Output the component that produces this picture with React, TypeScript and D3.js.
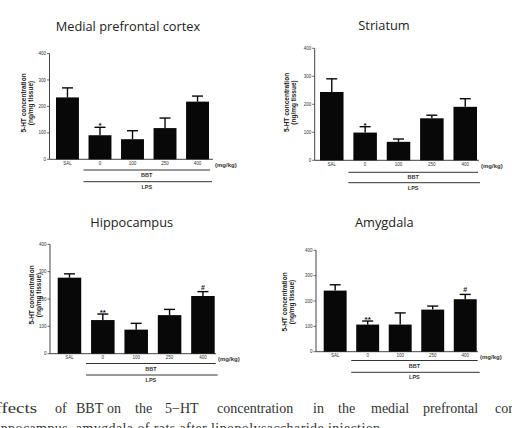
import React from "react";
import * as d3 from "d3";

// Dose groups on the x axis
const groups = ["SAL", "0", "100", "250", "400"];

// 5-HT concentration (ng/mg tissue), mean and SEM per brain region
const mpfcMean = [234, 91, 76, 118, 218];
const mpfcSem = [36, 30, 32, 38, 21];
const striatumMean = [244, 99, 66, 150, 191];
const striatumSem = [47, 21, 10, 11, 29];
const hippocampusMean = [278, 123, 88, 141, 211];
const hippocampusSem = [14, 22, 23, 21, 16];
const amygdalaMean = [241, 107, 107, 166, 207];
const amygdalaSem = [23, 14, 46, 14, 19];

// Significance marks above each bar
const mpfcMarks = ["", "*", "", "", ""];
const striatumMarks = ["", "*", "", "", ""];
const hippocampusMarks = ["", "**", "", "", "#"];
const amygdalaMarks = ["", "**", "", "", "#"];

const regionTitles = ["Medial prefrontal cortex", "Striatum", "Hippocampus", "Amygdala"];
const yTicks = [0, 100, 200, 300, 400];
const yLabelLines = ["5-HT concentration", "(ng/mg tissue)"];
const unitLabel = "(mg/kg)";
const bracketLabels = ["BBT", "LPS"];

const captionWords1 = ["Effects", "of", "BBT", "on", "the", "5\u2212HT", "concentration", "in", "the", "medial", "prefrontal", "cortex,"];
const captionLine2 = "hippocampus, amygdala of rats after lipopolysaccharide injection.";

// Panel geometry
const panelLayout = [
  { left: 49.5, y0: 159.3, yTop: 53.5, barsFrom: 56, barsTo: 209, axisEnd: 213, titleX: 128, titleY: 31, labelX: [24.5, 31.5], labelY: 103, bbtDy: 10.7, lpsDy: 22.4 },
  { left: 314.7, y0: 160.3, yTop: 48.3, barsFrom: 320, barsTo: 477, axisEnd: 479, titleX: 384, titleY: 30, labelX: [287.5, 294.5], labelY: 102.5, bbtDy: 12, lpsDy: 22.4 },
  { left: 50, y0: 353.7, yTop: 244.3, barsFrom: 57.7, barsTo: 214.7, axisEnd: 216, titleX: 131.7, titleY: 226.7, labelX: [32.5, 39.5], labelY: 295, bbtDy: 9.8, lpsDy: 21.3 },
  { left: 316, y0: 351.7, yTop: 250.3, barsFrom: 323.7, barsTo: 476.7, axisEnd: 478, titleX: 384.3, titleY: 226.7, labelX: [285.3, 292.3], labelY: 302, bbtDy: 8.8, lpsDy: 20.6 },
];

// Justified caption word positions (first word starts left of the page edge)
const captionX1 = [-16, 55, 76, 107, 135, 165, 217, 313, 338, 371, 423, 495];

const panels = [
  { mean: mpfcMean, sem: mpfcSem, marks: mpfcMarks },
  { mean: striatumMean, sem: striatumSem, marks: striatumMarks },
  { mean: hippocampusMean, sem: hippocampusSem, marks: hippocampusMarks },
  { mean: amygdalaMean, sem: amygdalaSem, marks: amygdalaMarks },
];

const labelFont = "'Liberation Sans', Arial, sans-serif";

function Panel({ idx }: { idx: number }) {
  const L = panelLayout[idx];
  const d = panels[idx];
  const y = d3.scaleLinear().domain([0, 400]).range([L.y0, L.yTop]);
  const x = d3.scaleBand<string>().domain(groups).range([L.barsFrom, L.barsTo]).paddingInner(0.295).paddingOuter(0);
  const bw = x.bandwidth();
  const bbtFrom = (x("0") as number) - 5;
  const bbtTo = (x("400") as number) + bw + 1;
  const bbtY = L.y0 + L.bbtDy;
  const lpsY = L.y0 + L.lpsDy;
  const capW = 11;

  return (
    <g>
      <text x={L.titleX} y={L.titleY} textAnchor="middle" fontFamily="'Open Sans', sans-serif" fontSize={12.8} fill="#222">
        {regionTitles[idx]}
      </text>

      {/* y axis */}
      <line x1={L.left} x2={L.left} y1={y(400)} y2={y(0)} stroke="#444" strokeWidth={1} />
      {yTicks.map((t) => (
        <g key={t}>
          <line x1={L.left - 2.5} x2={L.left} y1={y(t)} y2={y(t)} stroke="#444" strokeWidth={0.8} />
          <text x={L.left - 3.5} y={y(t)} dy="0.35em" textAnchor="end" fontFamily={labelFont} fontSize={4.5} fill="#333">
            {t}
          </text>
        </g>
      ))}
      {yLabelLines.map((s, i) => (
        <text
          key={s}
          transform={`translate(${L.labelX[i]},${L.labelY}) rotate(-90)`}
          textAnchor="middle"
          dominantBaseline="middle"
          fontFamily={labelFont}
          fontWeight="bold"
          fontSize={6.5}
          fill="#222"
        >
          {s}
        </text>
      ))}

      {/* x axis */}
      <line x1={L.left} x2={L.axisEnd} y1={y(0)} y2={y(0)} stroke="#444" strokeWidth={1} />
      {groups.map((g) => (
        <text key={g} x={(x(g) as number) + bw / 2} y={y(0) + 5.5} textAnchor="middle" fontFamily={labelFont} fontSize={4.5} fill="#333">
          {g}
        </text>
      ))}
      <text x={L.axisEnd + 2} y={y(0) + 7.5} fontFamily={labelFont} fontSize={6} fontWeight="bold" fill="#333">
        {unitLabel}
      </text>

      {/* bars with SEM whiskers */}
      {groups.map((g, i) => {
        const cx = (x(g) as number) + bw / 2;
        const top = y(d.mean[i] + d.sem[i]);
        const m = d.marks[i];
        const isStar = m.includes("*");
        return (
          <g key={g}>
            <rect x={x(g)} y={y(d.mean[i])} width={bw} height={y(0) - y(d.mean[i])} fill="#080808" />
            <line x1={cx} x2={cx} y1={y(d.mean[i])} y2={top} stroke="#080808" strokeWidth={1.4} />
            <line x1={cx - capW / 2} x2={cx + capW / 2} y1={top} y2={top} stroke="#080808" strokeWidth={1.4} />
            {m && (
              <text x={cx} y={isStar ? top + 1 : top - 2} textAnchor="middle" fontFamily={labelFont} fontWeight="bold" fontSize={isStar ? 8 : 7} fill="#111">
                {m}
              </text>
            )}
          </g>
        );
      })}

      {/* treatment brackets */}
      <line x1={bbtFrom} x2={bbtTo} y1={bbtY} y2={bbtY} stroke="#333" strokeWidth={1} />
      <text x={(bbtFrom + bbtTo) / 2} y={bbtY + 7} textAnchor="middle" fontFamily={labelFont} fontWeight="bold" fontSize={5.5} fill="#333">
        {bracketLabels[0]}
      </text>
      <line x1={bbtFrom} x2={bbtTo + 2} y1={lpsY} y2={lpsY} stroke="#333" strokeWidth={1} />
      <text x={(bbtFrom + bbtTo) / 2} y={lpsY + 7} textAnchor="middle" fontFamily={labelFont} fontWeight="bold" fontSize={5.5} fill="#333">
        {bracketLabels[1]}
      </text>
    </g>
  );
}

export default function App() {
  return (
    <svg
      width={512}
      height={428}
      viewBox="0 0 512 428"
      style={{ position: "absolute", left: 0, top: 0, background: "#fff" }}
    >
      <rect x={0} y={0} width={512} height={428} fill="#fff" />
      {panels.map((_, i) => (
        <Panel key={i} idx={i} />
      ))}
      <g fontFamily="'Liberation Serif', 'Times New Roman', serif" fontSize={14} fill="#333">
        {captionWords1.map((w, i) => (
          <text
            key={i}
            x={captionX1[i]}
            y={413.3}
            textLength={i === 0 ? 53 : undefined}
            lengthAdjust={i === 0 ? "spacingAndGlyphs" : undefined}
          >
            {w}
          </text>
        ))}
        <text x={-11} y={432.5} textLength={395} lengthAdjust="spacing">{captionLine2}</text>
      </g>
    </svg>
  );
}
